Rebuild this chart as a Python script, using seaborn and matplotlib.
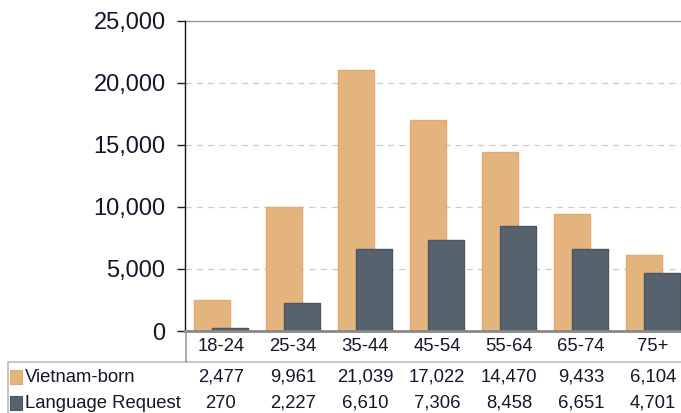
import matplotlib
matplotlib.use("Agg")
import matplotlib.pyplot as plt
import seaborn as sns
import numpy as np
import pandas as pd
from matplotlib.patches import Rectangle
from matplotlib.lines import Line2D
import matplotlib.transforms as mtransforms

categories = ["18-24", "25-34", "35-44", "45-54", "55-64", "65-74", "75+"]
vietnam_born = [2477, 9961, 21039, 17022, 14470, 9433, 6104]
language_request = [270, 2227, 6610, 7306, 8458, 6651, 4701]
series_names = ["Vietnam-born", "Language Request"]

ORANGE = "#E4B47F"
ORANGE_EDGE = "#E0AA70"
DARK = "#56636F"
DARK_EDGE = "#4A5661"
TXT = "#15152a"

sns.set_style("white")
plt.rcParams["font.family"] = ["Liberation Sans", "DejaVu Sans"]

W, H = 681, 413
fig = plt.figure(figsize=(W / 100, H / 100), dpi=100)
ax = fig.add_axes([185 / W, (H - 331) / H, (W - 185) / W, (331 - 21) / H])

pos = np.arange(len(categories))
df1 = pd.DataFrame({"x": pos - 0.125, "y": vietnam_born})
df2 = pd.DataFrame({"x": pos + 0.125, "y": language_request})
sns.barplot(data=df1, x="x", y="y", native_scale=True, width=0.5, color=ORANGE,
            edgecolor=ORANGE_EDGE, linewidth=1.0, saturation=1, errorbar=None, ax=ax, zorder=2)
sns.barplot(data=df2, x="x", y="y", native_scale=True, width=0.5, color=DARK,
            edgecolor=DARK_EDGE, linewidth=1.0, saturation=1, errorbar=None, ax=ax, zorder=3)

ax.set_xlim(-0.5, 6.5 - 8 / 72)
ax.set_ylim(0, 25000)
ax.set_yticks([0, 5000, 10000, 15000, 20000, 25000])
ax.set_yticklabels([f"{v:,}" for v in [0, 5000, 10000, 15000, 20000, 25000]],
                   fontsize=17, color=TXT)
ax.set_xticks(pos)
ax.set_xticklabels(categories, fontsize=13.3, color=TXT)
ax.tick_params(axis="x", length=0, pad=5)
ax.tick_params(axis="y", length=6, width=1, color="#222222", pad=8, left=True)
ax.set_xlabel("")
ax.set_ylabel("")

for v in [5000, 10000, 15000, 20000]:
    ax.axhline(v, color="#cccccc", linestyle=(0, (5, 4)), linewidth=0.9, zorder=0)
ax.axhline(25000, color="#999999", linewidth=1.0, zorder=0, clip_on=False)

for s in ["top", "right"]:
    ax.spines[s].set_visible(False)
ax.spines["left"].set_color("#111111")
ax.spines["left"].set_linewidth(1.0)
ax.spines["bottom"].set_color("#888888")
ax.spines["bottom"].set_linewidth(2.0)
ax.spines["bottom"].set_zorder(4)

# Data table below the axes
ftrans = fig.transFigure
def fy(py):
    return (H - py) / H
def fx(px):
    return px / W

fig.add_artist(Line2D([fx(8), 1.0], [fy(362), fy(362)], color="#bbbbbb", linewidth=1.2, transform=ftrans))
fig.add_artist(Line2D([fx(8), fx(8)], [fy(362), 0], color="#bbbbbb", linewidth=1.2, transform=ftrans))
fig.add_artist(Line2D([fx(185.5), fx(185.5)], [fy(331), fy(362)], color="#999999", linewidth=1.2, transform=ftrans))

blend = mtransforms.blended_transform_factory(ax.transData, ftrans)
rows = [vietnam_born, language_request]
row_y = [377, 403]
colors = [(ORANGE, ORANGE_EDGE), (DARK, DARK_EDGE)]
for name, vals, py, (fc, ec) in zip(series_names, rows, row_y, colors):
    fig.add_artist(Rectangle((fx(10), fy(py + 7)), 12 / W, 14 / H, facecolor=fc,
                             edgecolor=ec, linewidth=0.8, transform=ftrans))
    fig.text(fx(25), fy(py), name, fontsize=13.3, color=TXT, va="center", ha="left")
    for i, v in enumerate(vals):
        fig.text(i, fy(py), f"{v:,}", fontsize=13.3, color=TXT, va="center", ha="center",
                 transform=blend)

fig.savefig("out.png", dpi=100)
